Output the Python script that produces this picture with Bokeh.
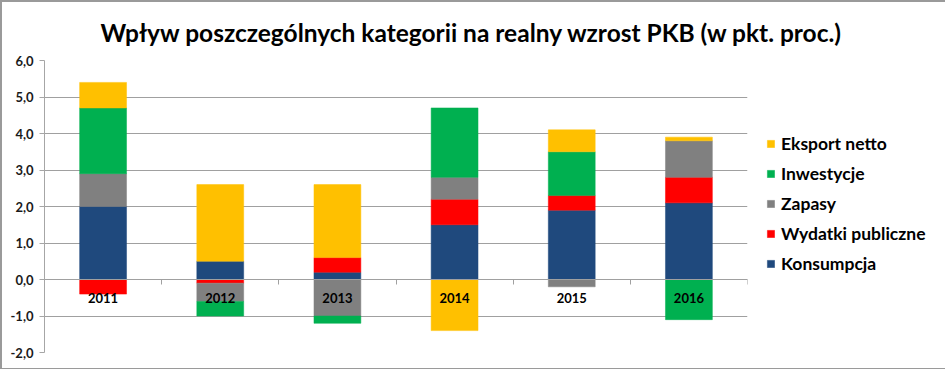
from bokeh.plotting import figure
from bokeh.models import Range1d, FixedTicker, Legend, LegendItem, ColumnDataSource, Title
from bokeh.core.properties import value
from bokeh.embed import file_html
from bokeh.resources import INLINE

title_text = "Wpływ poszczególnych kategorii na realny wzrost PKB (w pkt. proc.)"
years = ["2011", "2012", "2013", "2014", "2015", "2016"]
konsumpcja = [2.0, 0.5, 0.2, 1.5, 1.9, 2.1]
wydatki = [-0.4, -0.1, 0.4, 0.7, 0.4, 0.7]
zapasy = [0.9, -0.5, -1.0, 0.6, -0.2, 1.0]
inwestycje = [1.8, -0.4, -0.2, 1.9, 1.2, -1.1]
eksport = [0.7, 2.1, 2.0, -1.4, 0.6, 0.1]

series = [
    ("Konsumpcja", konsumpcja, "#1F497D"),
    ("Wydatki publiczne", wydatki, "#FF0000"),
    ("Zapasy", zapasy, "#808080"),
    ("Inwestycje", inwestycje, "#00B050"),
    ("Eksport netto", eksport, "#FFC000"),
]
y_ticks = [-2, -1, 0, 1, 2, 3, 4, 5, 6]
y_tick_labels = ["-2,0", "-1,0", "0,0", "1,0", "2,0", "3,0", "4,0", "5,0", "6,0"]

FONT = "Lato"
xs = list(range(1, len(years) + 1))

p = figure(width=945, height=369, output_backend="svg", toolbar_location=None,
           x_range=Range1d(0.5, len(years) + 0.5), y_range=Range1d(-2, 6),
           frame_width=703, frame_height=292,
           min_border_left=42, min_border_right=196, min_border_top=57, min_border_bottom=16)
p.styles = {"border": "2px solid #9a9a9a", "box-sizing": "border-box"}
p.outline_line_color = None
p.background_fill_color = "white"

pos = [0.0] * len(years)
neg = [0.0] * len(years)
renderers = {}
for name, vals, color in series:
    bottoms, tops = [], []
    for i, v in enumerate(vals):
        if v >= 0:
            bottoms.append(pos[i]); tops.append(pos[i] + v); pos[i] += v
        else:
            tops.append(neg[i]); bottoms.append(neg[i] + v); neg[i] += v
    src = ColumnDataSource(dict(x=xs, bottom=bottoms, top=tops))
    r = p.vbar(x="x", bottom="bottom", top="top", width=0.4, source=src,
               fill_color=color, line_color=color, line_width=0.5)
    renderers[name] = r

# category labels over bars just below zero line
lab_src = ColumnDataSource(dict(x=xs, y=[-0.52] * len(years), t=years))
p.text(x="x", y="y", text="t", source=lab_src, text_align="center", text_baseline="middle",
       text_font=value(FONT), text_font_style="bold", text_font_size="13px", text_color="#000000")

# y axis
p.yaxis.ticker = FixedTicker(ticks=y_ticks)
p.yaxis.major_label_overrides = {t: l for t, l in zip(y_ticks, y_tick_labels)}
p.yaxis.major_label_text_font = FONT
p.yaxis.major_label_text_font_style = "bold"
p.yaxis.major_label_text_font_size = "13px"
p.yaxis.major_label_text_color = "#1a1a1a"
p.yaxis.axis_line_color = "#a6a6a6"
p.yaxis.major_tick_line_color = "#a6a6a6"
p.yaxis.major_tick_out = 5
p.yaxis.major_tick_in = 0
p.yaxis.minor_tick_line_color = None
p.yaxis.major_label_standoff = 6

# x axis at zero with ticks at category boundaries
boundaries = [x + 0.5 for x in xs]
p.xaxis.fixed_location = 0
p.xaxis.ticker = FixedTicker(ticks=boundaries)
p.xaxis.major_label_overrides = {b: "" for b in boundaries}
p.xaxis.axis_line_color = "#a0a0a0"
p.xaxis.major_tick_line_color = "#a0a0a0"
p.xaxis.major_tick_out = 5
p.xaxis.major_tick_in = 0
p.xaxis.minor_tick_line_color = None

p.xgrid.grid_line_color = None
p.ygrid.ticker = FixedTicker(ticks=y_ticks)
p.ygrid.grid_line_color = "#a0a0a0"
p.ygrid.grid_line_width = 1

# legend
items = [LegendItem(label=name, renderers=[renderers[name]]) for name, _, _ in reversed(series)]
legend = Legend(items=items, location=(19, 78), glyph_width=9, glyph_height=9,
                label_text_font=FONT, label_text_font_style="bold", label_text_font_size="17.5px",
                label_text_color="#000000", spacing=9, border_line_color=None,
                background_fill_alpha=0, label_standoff=6, padding=0, margin=0)
p.add_layout(legend, "right")

# title
p.title = Title(text=title_text, align="left", offset=56, text_font=FONT,
                text_font_style="bold", text_font_size="24.5px", text_color="#000000",
                standoff=27)

open("out.html", "w").write(file_html(p, INLINE))
